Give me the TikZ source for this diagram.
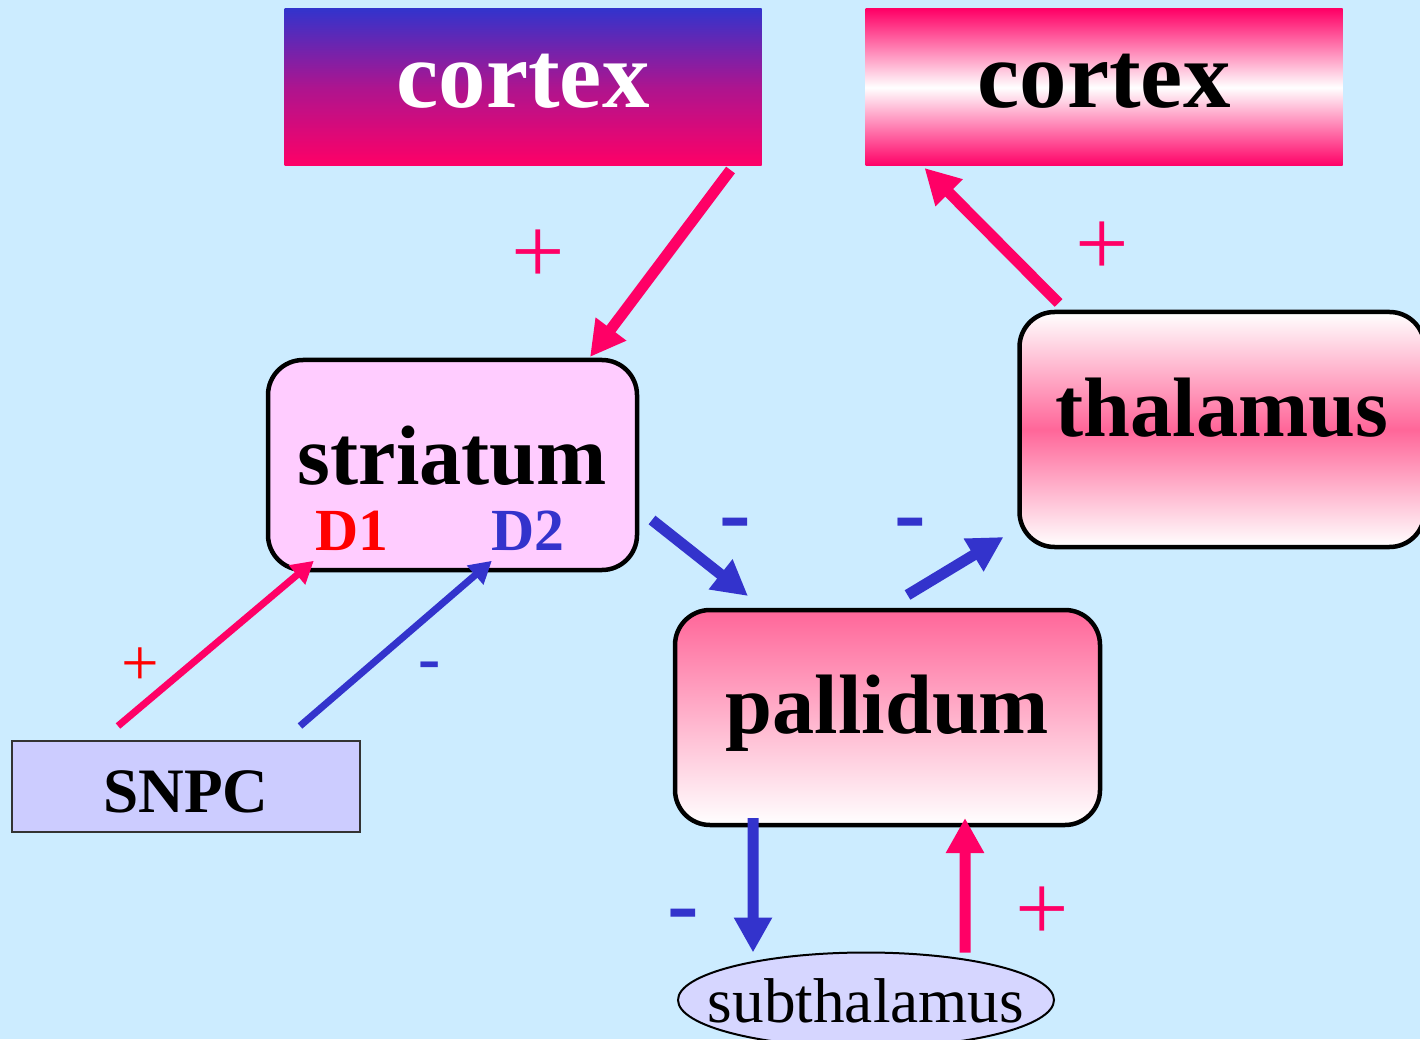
\documentclass[tikz,border=0pt]{standalone}
\usepackage{fontspec}
\setmainfont{Liberation Serif}
\usetikzlibrary{calc,arrows.meta,shapes.geometric}
\definecolor{bgblue}{RGB}{204,236,255}
\definecolor{hotpink}{RGB}{255,0,102}
\definecolor{deepblue}{RGB}{51,51,204}
\definecolor{rosy}{RGB}{255,102,153}
\definecolor{lilac}{RGB}{255,204,255}
\definecolor{lavender}{RGB}{204,204,255}
\definecolor{paleviolet}{RGB}{214,214,255}

\begin{document}
\begin{tikzpicture}[x=0.1mm, y=-0.1mm,
  ctx/.style={rectangle, minimum width=47.7mm, minimum height=15.7mm, outer sep=0pt,
    font=\bfseries\fontsize{27pt}{30pt}\selectfont, text height=5mm, text depth=0.9mm},
  area/.style={draw, line width=0.45mm, rounded corners=3.5mm, outer sep=0pt,
    font=\bfseries\fontsize{24pt}{28pt}\selectfont},
  dlabel/.style={anchor=base, inner sep=0.2mm, font=\bfseries\fontsize{17pt}{19pt}\selectfont},
  exc/.style={-{Triangle[length=3.5mm,width=3.6mm]}, line width=1.1mm, hotpink},
  inh/.style={-{Triangle[length=3.5mm,width=3.6mm]}, line width=1.1mm, deepblue},
  excthin/.style={-{Triangle[length=2.2mm,width=2.4mm]}, line width=0.7mm, hotpink},
  inhthin/.style={-{Triangle[length=2.2mm,width=2.4mm]}, line width=0.7mm, deepblue},
  plussign/.style={inner sep=0pt, font=\fontsize{27pt}{30pt}\selectfont},
  minussign/.style={inner sep=0pt, font=\bfseries\fontsize{27pt}{30pt}\selectfont, text=deepblue}]

  \useasboundingbox[fill=bgblue] (0,0) rectangle (1420,1039);

  \node[ctx, top color=deepblue, bottom color=hotpink, middle color=hotpink!60!deepblue, text=white] (cortexL) at (523,87.5) {cortex};
  \node[ctx, top color=hotpink, bottom color=hotpink, middle color=white] (cortexR) at (1104,87.5) {cortex};

  \node[area, fill=lilac, minimum width=36.9mm, minimum height=21mm,
    text height=5mm, text depth=1.2mm] (str) at (452.5,465) {striatum};
  \node[dlabel, text=red] (d1) at (352,550) {D1};
  \node[dlabel, text=deepblue] (d2) at (528,550) {D2};

  \node[area, top color=white, bottom color=white, middle color=rosy, minimum width=40.5mm,
    minimum height=23.5mm, text height=5mm, text depth=3.5mm] (thal) at (1222,429.5) {thalamus};
  \node[area, top color=rosy, bottom color=white, minimum width=42.5mm, minimum height=21.5mm,
    text height=5mm, text depth=1.9mm] (pal) at (887.5,717.5) {pallidum};

  \node[draw=black!80, line width=0.15mm, fill=lavender, minimum width=34.8mm, minimum height=9.1mm,
    outer sep=0pt, font=\bfseries\fontsize{18pt}{20pt}\selectfont, text height=5.5mm, text depth=0.4mm] (snpc) at (186,786.5) {SNPC};
  \node[ellipse, draw, line width=0.2mm, fill=paleviolet, minimum width=37.6mm, minimum height=9.5mm,
    inner sep=0pt, outer sep=0pt, font=\fontsize{18pt}{20pt}\selectfont, text height=4.4mm, text depth=0mm]
    (sub) at (866,1000) {\makebox[0pt]{subthalamus}};

  % connections
  \draw[exc] ($(cortexL.south east)+(-31,4)$) -- ($(str.north east)+(-47,-3)$);
  \draw[exc] ($(thal.north west)+(39,-9)$) -- ($(cortexR.south west)+(59,2)$);
  \draw[inh] ($(str.east)+(15,55)$) -- ($(pal.north west)+(73,-14)$);
  \draw[inh] ($(pal.north)+(20,-15)$) -- ($(thal.south west)+(-16,-10)$);
  \draw[inh] ($(pal.south west)+(78,-7)$) -- ($(sub.north)+(-113,0)$);
  \draw[exc] ($(sub.north)+(99,0)$) -- ($(pal.south east)+(-135,-7)$);
  \draw[excthin] ($(snpc.north west)+(106,-15)$) -- ($(d1.south west)+(1,8)$);
  \draw[inhthin] ($(snpc.north west)+(288,-15)$) -- ($(d2.south west)+(3,8)$);

  % signs
  \node[plussign, text=hotpink] (plusA) at (538,257) {+};
  \node[plussign, text=hotpink] (plusB) at (1102,249) {+};
  \node[minussign] (minusA) at (735,531) {-};
  \node[minussign] (minusB) at (910,531) {-};
  \node[plussign, text=red, font=\fontsize{19pt}{21pt}\selectfont] (plusC) at (140,667) {+};
  \node[minussign, font=\bfseries\fontsize{19pt}{21pt}\selectfont] (minusC) at (430,671) {-};
  \node[minussign] (minusD) at (683,922) {-};
  \node[plussign, text=hotpink] (plusD) at (1042,914) {+};
\end{tikzpicture}
\end{document}
